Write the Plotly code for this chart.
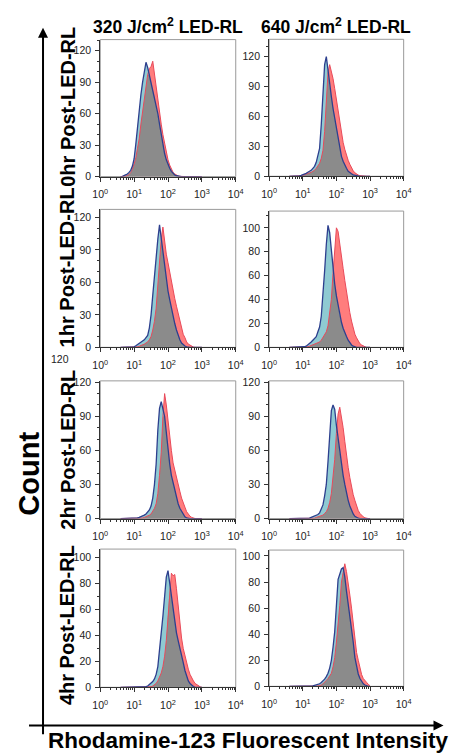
import plotly.graph_objects as go

# ---------------- data ----------------
LOG10_INTENSITY = [0.60, 0.65, 0.70, 0.75, 0.80, 0.85, 0.90, 0.95, 1.00, 1.05,
                   1.10, 1.15, 1.20, 1.25, 1.30, 1.35, 1.40, 1.45, 1.50, 1.55,
                   1.60, 1.65, 1.70, 1.75, 1.80, 1.85, 1.90, 1.95, 2.00, 2.05,
                   2.10, 2.15, 2.20, 2.25, 2.30, 2.35, 2.40, 2.45, 2.50, 2.55,
                   2.60, 2.65, 2.70, 2.75, 2.80, 2.85, 2.90, 2.95, 3.00]

COL_LABELS = ["320 J/cm<sup>2</sup> LED-RL", "640 J/cm<sup>2</sup> LED-RL"]
ROW_LABELS = ["0hr Post-LED-RL", "1hr Post-LED-RL", "2hr Post-LED-RL", "4hr Post-LED-RL"]
X_TICK_VALS = [1, 10, 100, 1000, 10000]
X_TICK_TEXT = ["10<sup>0</sup>", "10<sup>1</sup>", "10<sup>2</sup>", "10<sup>3</sup>", "10<sup>4</sup>"]
Y_TICKS_30 = [0, 30, 60, 90, 120]
Y_TICKS_20 = [0, 20, 40, 60, 80, 100]

# row 0hr, 320 J/cm2
blue_0h_320 = [0, 0, 1, 1.5, 2.5, 4, 6, 10, 17, 31,
               48, 64, 78, 90, 100, 109, 104, 97, 91, 83,
               76, 68, 60, 50, 40, 30, 22, 16, 11, 8,
               5, 3, 1.5, 0.8, 0.3, 0, 0, 0, 0, 0,
               0, 0, 0, 0, 0, 0, 0, 0, 0]
red_0h_320 = [0, 0, 0, 0.5, 1, 2, 4, 7, 12, 18,
              27, 36, 50, 63, 75, 88, 97, 103, 105, 110,
              97, 86, 74, 62, 50, 40, 31, 23, 16, 11,
              7, 4, 2.5, 1.2, 0.6, 0.2, 0, 0, 0, 0,
              0, 0, 0, 0, 0, 0, 0, 0, 0]
# row 0hr, 640 J/cm2
blue_0h_640 = [0, 0, 0, 0, 0, 0, 0.5, 1, 1.5, 2,
               3, 4, 5, 6, 8, 10, 14, 20, 28, 52,
               85, 112, 120, 105, 90, 80, 68, 58, 47, 37,
               28, 20, 15, 11, 8, 5, 3.5, 2.5, 1.5, 1,
               0.5, 0.2, 0, 0, 0, 0, 0, 0, 0]
red_0h_640 = [0, 0, 0, 0, 0, 0, 0, 0.5, 1, 1.5,
              2, 2.5, 3, 4, 5, 6, 8, 10, 13, 18,
              26, 45, 80, 104, 112, 106, 98, 88, 77, 65,
              53, 42, 34, 27, 21, 16, 12, 8, 5.5, 3.5,
              2, 1.2, 0.6, 0.3, 0, 0, 0, 0, 0]
# row 1hr, 320 J/cm2
blue_1h_320 = [0, 0, 0, 0, 0, 0, 0, 0, 0.5, 1.5,
               2.5, 3.5, 4.5, 5.5, 7, 9, 11, 18, 30, 48,
               68, 85, 100, 113, 100, 88, 75, 62, 52, 44,
               36, 29, 22, 16, 11, 7, 4, 2.5, 1.2, 0.5,
               0, 0, 0, 0, 0, 0, 0, 0, 0]
red_1h_320 = [0, 0, 0, 0, 0, 0, 0, 0, 0, 0,
              0.5, 1, 1.5, 2, 3, 4, 5, 7, 10, 16,
              24, 36, 60, 82, 100, 111, 98, 86, 78, 69,
              60, 52, 45, 38, 31, 24, 17, 12, 9, 5,
              3, 2, 1, 0.3, 0, 0, 0, 0, 0]
# row 1hr, 640 J/cm2
blue_1h_640 = [0, 0, 0, 0, 0, 0, 0, 0, 0, 0.5,
               1, 2, 3, 4.5, 6, 7.5, 9, 13, 17, 26,
               43, 64, 86, 102, 96, 80, 63, 53, 43, 35,
               27, 21, 16, 12, 9, 6, 3.5, 2, 1, 0.4,
               0, 0, 0, 0, 0, 0, 0, 0, 0]
red_1h_640 = [0, 0, 0, 0, 0, 0, 0, 0, 0, 0,
              0, 0.5, 1, 1.5, 2, 2.5, 3, 3.5, 4.5, 6,
              8, 10, 13, 18, 28, 40, 62, 86, 100, 97,
              88, 78, 66, 56, 46, 37, 29, 22, 16, 11,
              8, 5, 3, 2, 1, 0.5, 0, 0, 0]
# row 2hr, 320 J/cm2
blue_2h_320 = [0, 0, 0, 0, 0, 0, 0, 0, 0, 0,
               0.5, 1, 1.5, 2, 3, 4, 5.5, 7.5, 11, 18,
               30, 48, 78, 97, 103, 97, 90, 76, 60, 48,
               38, 32, 26, 18, 13, 9, 6, 3.5, 1.5, 0.5,
               0, 0, 0, 0, 0, 0, 0, 0, 0]
red_2h_320 = [0, 0, 0, 0, 0, 0, 0, 0, 0, 0,
              0, 0, 0, 0.5, 1, 1.5, 2, 3, 4, 6,
              9, 13, 22, 38, 58, 90, 110, 100, 85, 72,
              60, 49, 42, 36, 31, 24, 18, 13, 10, 6,
              3.5, 2, 1, 0.3, 0, 0, 0, 0, 0]
# row 2hr, 640 J/cm2
blue_2h_640 = [0, 0, 0, 0, 0, 0, 0, 0, 0, 0,
               0, 0, 0.3, 1, 1.5, 2, 2.5, 3.5, 5, 8,
               12, 20, 30, 50, 78, 95, 100, 96, 82, 70,
               58, 47, 38, 30, 22, 16, 11, 7, 4, 2,
               1, 0.3, 0, 0, 0, 0, 0, 0, 0]
red_2h_640 = [0, 0, 0, 0, 0, 0, 0, 0, 0, 0,
              0, 0, 0, 0, 0, 0.3, 1, 1.5, 2, 2.5,
              3, 4.5, 6, 9, 14, 22, 35, 52, 75, 92,
              98, 90, 80, 68, 55, 45, 36, 28, 21, 16,
              11, 7, 4.5, 2.5, 1.5, 0.6, 0, 0, 0]
# row 4hr, 320 J/cm2
blue_4h_320 = [0, 0, 0, 0, 0, 0, 0, 0, 0, 0,
               0, 0, 0, 0, 0, 0.5, 1, 2, 3, 4.5,
               6.5, 10, 16, 27, 42, 55, 68, 85, 90, 80,
               70, 62, 52, 42, 36, 31, 25, 19, 13, 9,
               5, 3, 1.5, 0.6, 0, 0, 0, 0, 0]
red_4h_320 = [0, 0, 0, 0, 0, 0, 0, 0, 0, 0,
              0, 0, 0, 0, 0, 0, 0, 0, 0.5, 1,
              2, 3, 5, 7.5, 11, 16, 24, 36, 55, 77,
              88, 86, 87, 76, 62, 52, 38, 30, 24, 18,
              14, 10, 7, 5, 3, 2, 1, 0.4, 0]
# row 4hr, 640 J/cm2
blue_4h_640 = [0, 0, 0, 0, 0, 0, 0, 0, 0, 0,
               0, 0, 0, 0, 0.3, 0.7, 1, 1.5, 2, 3,
               4, 5.5, 7.5, 10, 14, 20, 30, 42, 62, 82,
               86, 90, 91, 84, 73, 64, 54, 44, 34, 22,
               15, 9.5, 6, 3.5, 2, 1, 0.3, 0, 0]
red_4h_640 = [0, 0, 0, 0, 0, 0, 0, 0, 0, 0,
              0, 0, 0, 0, 0, 0, 0, 0.3, 0.7, 1,
              2, 3, 4.5, 6, 8, 10, 15, 22, 34, 46,
              62, 80, 88, 94, 88, 80, 70, 60, 48, 36,
              26, 20, 14, 9, 6, 4, 3, 1.5, 0.5]

PANEL_DATA = [
    (blue_0h_320, red_0h_320), (blue_0h_640, red_0h_640),
    (blue_1h_320, red_1h_320), (blue_1h_640, red_1h_640),
    (blue_2h_320, red_2h_320), (blue_2h_640, red_2h_640),
    (blue_4h_320, red_4h_320), (blue_4h_640, red_4h_640),
]
Y_TICKS = [Y_TICKS_30, Y_TICKS_30, Y_TICKS_30, Y_TICKS_20,
           Y_TICKS_30, Y_TICKS_30, Y_TICKS_20, Y_TICKS_20]
Y_MAX = [130.6, 137.4, 127.3, 114, 121.2, 121.2, 106.6, 104.5]

# ---------------- layout geometry (pixels) ----------------
W, H = 458, 756
X_DOM_PX = [(87.3, 227.7), (262.3, 401.7)]
Y_DOM_PX = [(27, 166), (26.7, 165.7), (199.3, 339.3), (201, 339.3),
            (373.3, 513), (373.3, 513), (544, 684.3), (545, 683.3)]

FONT = "Liberation Sans, Arial, sans-serif"
RED_FILL = "#ff7d7d"
CYAN_FILL = "#8fcad2"
GRAY_FILL = "#8b8b8b"
RED_LINE = "#e84a5a"
BLUE_LINE = "#2d3f8e"

intensity = [10 ** g for g in LOG10_INTENSITY]
minor_x = [k * 10 ** n for n in range(4) for k in range(2, 10)]

fig = go.Figure()
shapes = []
for i, (blue, red) in enumerate(PANEL_DATA):
    row, col = divmod(i, 2)
    n = i + 1
    xa = "x" if n == 1 else f"x{n}"
    ya = "y" if n == 1 else f"y{n}"
    overlap = [min(a, b) for a, b in zip(blue, red)]
    fig.add_trace(go.Scatter(x=intensity, y=red, mode="lines", fill="tozeroy",
                             fillcolor=RED_FILL, line=dict(width=0),
                             xaxis=xa, yaxis=ya, showlegend=False, hoverinfo="skip"))
    fig.add_trace(go.Scatter(x=intensity, y=blue, mode="lines", fill="tozeroy",
                             fillcolor=CYAN_FILL, line=dict(width=0),
                             xaxis=xa, yaxis=ya, showlegend=False, hoverinfo="skip"))
    fig.add_trace(go.Scatter(x=intensity, y=overlap, mode="lines", fill="tozeroy",
                             fillcolor=GRAY_FILL, line=dict(width=0),
                             xaxis=xa, yaxis=ya, showlegend=False, hoverinfo="skip"))
    fig.add_trace(go.Scatter(x=intensity, y=red, mode="lines",
                             line=dict(color=RED_LINE, width=1),
                             xaxis=xa, yaxis=ya, showlegend=False, hoverinfo="skip"))
    fig.add_trace(go.Scatter(x=intensity, y=blue, mode="lines",
                             line=dict(color=BLUE_LINE, width=1.3),
                             xaxis=xa, yaxis=ya, showlegend=False, hoverinfo="skip"))

    x0, x1 = X_DOM_PX[col]
    yt, yb = Y_DOM_PX[i]
    xkey = "xaxis" if n == 1 else f"xaxis{n}"
    ykey = "yaxis" if n == 1 else f"yaxis{n}"
    fig.update_layout({
        xkey: dict(domain=[x0 / W, x1 / W], anchor=ya, type="log", range=[0, 4],
                   tickmode="array", tickvals=X_TICK_VALS, ticktext=X_TICK_TEXT,
                   ticks="outside", ticklen=4, tickwidth=1, tickcolor="#333",
                   showline=True, linecolor="#333", linewidth=1,
                   showgrid=False, zeroline=False, ticklabelstandoff=4,
                   tickfont=dict(family=FONT, size=10.5, color="#222"),
                   minor=dict(tickmode="array", tickvals=minor_x, ticks="outside",
                              ticklen=2, tickcolor="#333", showgrid=False)),
        ykey: dict(domain=[1 - yb / H, 1 - yt / H], anchor=xa, range=[0, Y_MAX[i]],
                   tickmode="array", tickvals=Y_TICKS[i],
                   ticks="outside", ticklen=4, tickwidth=1, tickcolor="#333",
                   showline=True, linecolor="#333", linewidth=1,
                   showgrid=False, zeroline=False, ticklabelstandoff=2,
                   tickfont=dict(family=FONT, size=10.5, color="#222"),
                   minor=dict(dtick=10, ticks="outside", ticklen=2,
                              tickcolor="#333", showgrid=False)),
    })
    shapes.append(dict(type="rect", xref=f"{xa} domain", yref=f"{ya} domain",
                       x0=0, x1=1, y0=0, y1=1, line=dict(color="#9a9a9a", width=1),
                       layer="below"))

annotations = []
# column titles
for j, t in enumerate(COL_LABELS):
    cx = (X_DOM_PX[j][0] + X_DOM_PX[j][1]) / 2
    annotations.append(dict(text=f"<b>{t}</b>", x=cx / W, y=1 - 13 / H, xref="paper",
                            yref="paper", showarrow=False, xanchor="center",
                            yanchor="middle", font=dict(family=FONT, size=17.5, color="#000")))
# row labels
ROW_CY = [95, 258, 443, 621]
for r, t in enumerate(ROW_LABELS):
    annotations.append(dict(text=f"<b>{t}</b>", x=53 / W, y=1 - ROW_CY[r] / H,
                            xref="paper", yref="paper", showarrow=False, textangle=-90,
                            xanchor="center", yanchor="middle",
                            font=dict(family=FONT, size=20, color="#000")))
# axis titles
annotations.append(dict(text="<b>Count</b>", x=14 / W, y=1 - 468 / H, xref="paper",
                        yref="paper", showarrow=False, textangle=-90,
                        xanchor="center", yanchor="middle",
                        font=dict(family=FONT, size=29, color="#000")))
annotations.append(dict(text="<b>Rhodamine-123 Fluorescent Intensity</b>", x=241 / W,
                        y=1 - 738 / H, xref="paper", yref="paper", showarrow=False,
                        xanchor="center", yanchor="middle",
                        font=dict(family=FONT, size=22.5, color="#000")))
# stray label present in the original figure
annotations.append(dict(text="120", x=46 / W, y=1 - 351 / H, xref="paper", yref="paper",
                        showarrow=False, xanchor="center", yanchor="middle",
                        font=dict(family=FONT, size=10.5, color="#222")))
# axis arrows
annotations.append(dict(text="", x=28 / W, y=1 - 15 / H, xref="paper", yref="paper",
                        showarrow=True, ax=0, ay=708, axref="pixel", ayref="pixel",
                        arrowhead=2, arrowsize=1, arrowwidth=2, arrowcolor="#000"))
annotations.append(dict(text="", x=443 / W, y=1 - 723 / H, xref="paper", yref="paper",
                        showarrow=True, ax=-416, ay=0, axref="pixel", ayref="pixel",
                        arrowhead=2, arrowsize=1, arrowwidth=2, arrowcolor="#000"))

fig.update_layout(width=W, height=H, margin=dict(l=0, r=0, t=0, b=0),
                  plot_bgcolor="white", paper_bgcolor="white",
                  shapes=shapes, annotations=annotations, showlegend=False)

fig.write_html("out.html")
